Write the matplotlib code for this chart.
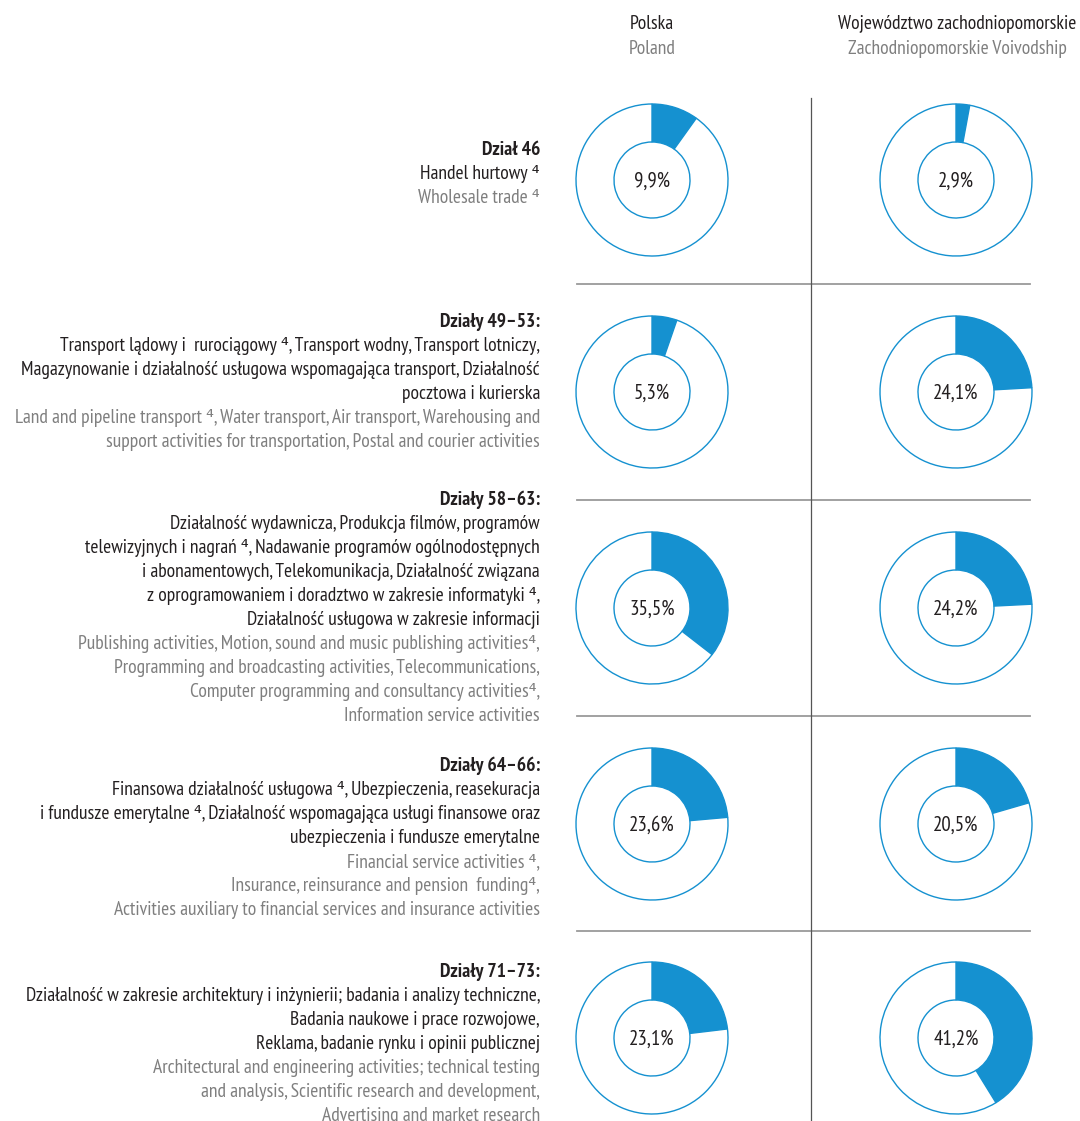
import matplotlib.pyplot as plt

plt.rcParams['font.family'] = ['PT Sans Narrow', 'DejaVu Sans']

# data
values_pl = [9.9, 5.3, 35.5, 23.6, 23.1]
values_zp = [2.9, 24.1, 24.2, 20.5, 41.2]
labels_pl = ['9,9%', '5,3%', '35,5%', '23,6%', '23,1%']
labels_zp = ['2,9%', '24,1%', '24,2%', '20,5%', '41,2%']

headers = ['Dział 46', 'Działy 49–53:', 'Działy 58–63:', 'Działy 64–66:', 'Działy 71–73:']
polish_lines = [
    ['Handel hurtowy ⁴'],
    ['Transport lądowy i  rurociągowy ⁴, Transport wodny, Transport lotniczy,',
     'Magazynowanie i działalność usługowa wspomagająca transport, Działalność',
     'pocztowa i kurierska'],
    ['Działalność wydawnicza, Produkcja filmów, programów',
     'telewizyjnych i nagrań ⁴, Nadawanie programów ogólnodostępnych',
     'i abonamentowych, Telekomunikacja, Działalność związana',
     'z oprogramowaniem i doradztwo w zakresie informatyki ⁴,',
     'Działalność usługowa w zakresie informacji'],
    ['Finansowa działalność usługowa ⁴, Ubezpieczenia, reasekuracja',
     'i fundusze emerytalne ⁴, Działalność wspomagająca usługi finansowe oraz',
     'ubezpieczenia i fundusze emerytalne'],
    ['Działalność w zakresie architektury i inżynierii; badania i analizy techniczne,',
     'Badania naukowe i prace rozwojowe,',
     'Reklama, badanie rynku i opinii publicznej'],
]
english_lines = [
    ['Wholesale trade ⁴'],
    ['Land and pipeline transport ⁴, Water transport, Air transport, Warehousing and',
     'support activities for transportation, Postal and courier activities'],
    ['Publishing activities, Motion, sound and music publishing activities⁴,',
     'Programming and broadcasting activities, Telecommunications,',
     'Computer programming and consultancy activities⁴,',
     'Information service activities'],
    ['Financial service activities ⁴,',
     'Insurance, reinsurance and pension  funding⁴,',
     'Activities auxiliary to financial services and insurance activities'],
    ['Architectural and engineering activities; technical testing',
     'and analysis, Scientific research and development,',
     'Advertising and market research'],
]

W, H = 1080, 1121
BLUE = '#1591D0'
DARK = '#231F20'
GREY = '#7F7F7F'
FS = 14

fig = plt.figure(figsize=(W / 100, H / 100), dpi=100)
ax = fig.add_axes([0, 0, 1, 1])


def Y(y):
    return H - y


centers_y = [180, 392, 608, 824, 1038]
header_y = [150, 322, 500, 766, 972]
x_pl, x_zp = 652, 956
r_out, ring = 76, 38
step = 24

for i in range(5):
    cy = Y(centers_y[i])
    for cx, v, lab in [(x_pl, values_pl[i], labels_pl[i]), (x_zp, values_zp[i], labels_zp[i])]:
        ax.pie([v, 100 - v], colors=[BLUE, 'white'], startangle=90, counterclock=False,
               center=(cx, cy), radius=r_out,
               wedgeprops=dict(width=ring, edgecolor=BLUE, linewidth=1.0))
        ax.text(cx, cy - 1, lab, ha='center', va='center', fontsize=15, color=DARK)

    y = header_y[i]
    ax.text(540, Y(y), headers[i], ha='right', va='center', fontsize=FS,
            fontweight='bold', color=DARK)
    for line in polish_lines[i]:
        y += step
        ax.text(540, Y(y), line, ha='right', va='center', fontsize=FS, color=DARK)
    for line in english_lines[i]:
        y += step
        ax.text(540, Y(y), line, ha='right', va='center', fontsize=FS, color=GREY)

# separators
for y in [284, 500, 716, 931]:
    ax.plot([577, 1030], [Y(y), Y(y)], color='#9A9A9A', lw=1.3)
ax.plot([811, 811], [Y(98), Y(1121)], color='#555555', lw=0.9)

# column headers
ax.text(x_pl, Y(24), 'Polska', ha='center', va='center', fontsize=FS, color=DARK)
ax.text(x_pl, Y(49), 'Poland', ha='center', va='center', fontsize=FS, color=GREY)
ax.text(957, Y(24), 'Województwo zachodniopomorskie', ha='center', va='center',
        fontsize=FS, color=DARK)
ax.text(957, Y(49), 'Zachodniopomorskie Voivodship', ha='center', va='center',
        fontsize=FS, color=GREY)

ax.set_xlim(0, W)
ax.set_ylim(0, H)
ax.set_aspect('equal')
ax.axis('off')

fig.savefig('out.png', dpi=100, facecolor='white')
